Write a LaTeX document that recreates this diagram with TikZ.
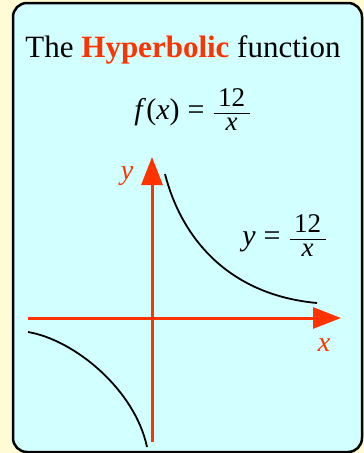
\documentclass[tikz,border=0pt]{standalone}
\usepackage{fontspec}
\setmainfont{Liberation Serif}
\usetikzlibrary{arrows.meta, positioning}
\definecolor{axisred}{RGB}{255,51,0}
\definecolor{paleyellow}{RGB}{255,251,212}
\definecolor{palecyan}{RGB}{210,255,255}
% fraction in text fonts
\newcommand{\txtfrac}[2]{{\fontsize{27}{27}\selectfont
    \renewcommand{\arraystretch}{0.85}\setlength{\arrayrulewidth}{1.6pt}%
    \begin{tabular}{@{\,}c@{\,}}#1\\\hline#2\end{tabular}}}
\newcommand{\eqsign}{\hspace{8pt}=\hspace{9pt}}

\begin{document}
\begin{tikzpicture}[
    x=1pt, y=-1pt,
    panel/.style={draw=black, line width=2.5pt, rounded corners=14pt, fill=palecyan},
    axis/.style={draw=axisred, line width=3pt, -{Triangle[length=28pt, width=21pt]}},
    curve/.style={draw=black, line width=1.8pt},
    txt/.style={font=\fontsize{30}{34}\selectfont, inner sep=0pt},
    axislabel/.style={txt, text=axisred, font=\fontsize{28}{32}\selectfont\itshape}
]
    % Fundo e painel
    \fill[paleyellow] (0,0) rectangle (364,453);
    \useasboundingbox (0,0) rectangle (364,453);
    \draw[panel] (13,3) rectangle (362,452);

    % Textos
    \node[txt, anchor=base, font=\fontsize{31}{35}\selectfont] (title) at (183,57)
        {The \textcolor{axisred}{\textbf{Hyperbolic}} function};
    \node[txt, anchor=base] (formula) at (192,119)
        {\textit{f}(\textit{x})\eqsign\txtfrac{12}{\textit{x}}};
    \node[txt, anchor=base] (curvelabel) at (284,245)
        {\textit{y}\eqsign\txtfrac{12}{\textit{x}}};

    % Eixos
    \coordinate (xstart) at (28,318);
    \coordinate (xend) at (341,318);
    \coordinate (ystart) at (152,442);
    \coordinate (yend) at (152,157);
    \draw[axis] (xstart) -- (xend);
    \draw[axis] (ystart) -- (yend);
    \node[axislabel] (ylabel) at (127,176) {y};
    \node[axislabel] (xlabel) at (324,345) {x};

    % Ramos da hipérbole
    \draw[curve] (165,174) .. controls (182,240) and (230,295) .. (317,303);
    \draw[curve] (28,332) .. controls (75,340) and (135,390) .. (147,447);
\end{tikzpicture}
\end{document}
